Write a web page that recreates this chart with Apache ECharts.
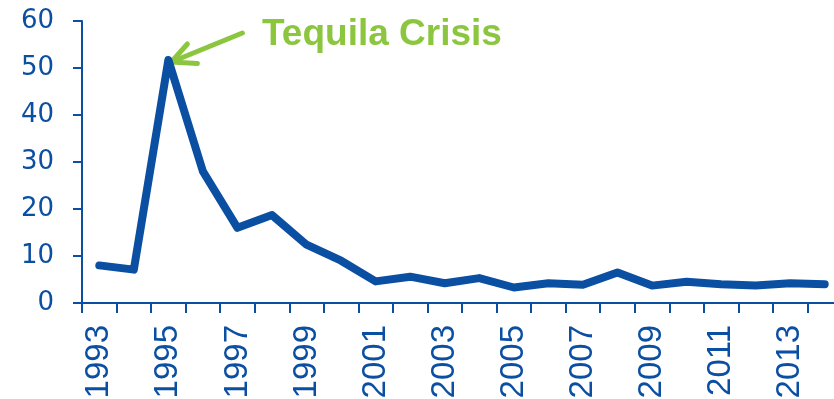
<!DOCTYPE html>
<html>
<head>
<meta charset="utf-8">
<script src="https://cdn.jsdelivr.net/npm/echarts@6/dist/echarts.min.js"></script>
<style>
html,body{margin:0;padding:0;background:#fff;}
#chart{width:834px;height:399px;}
</style>
</head>
<body>
<div id="chart"></div>
<script>
var years = ['1993','1994','1995','1996','1997','1998','1999','2000','2001','2002','2003','2004','2005','2006','2007','2008','2009','2010','2011','2012','2013','2014'];
var values = [8.0, 7.1, 51.7, 28.0, 16.0, 18.7, 12.4, 9.0, 4.6, 5.6, 4.2, 5.3, 3.3, 4.2, 3.9, 6.5, 3.7, 4.5, 4.0, 3.7, 4.2, 4.0];
var yTicks = [0, 10, 20, 30, 40, 50, 60];
var annotationText = 'Tequila Crisis';
var annotationYear = '1995';

var BLUE = '#0b4fa3';
var GREEN = '#8cc63f';

var chart = echarts.init(document.getElementById('chart'), null, {renderer: 'canvas'});
var option = {
  animation: false,
  grid: {left: 82, top: 21, width: 760, height: 282, containLabel: false, outerBoundsMode: 'none'},
  xAxis: {
    type: 'category',
    data: years,
    boundaryGap: true,
    axisLine: {show: true, lineStyle: {color: BLUE, width: 2}},
    axisTick: {show: true, length: 10, lineStyle: {color: BLUE, width: 2}, interval: 0},
    axisLabel: {
      interval: 1, rotate: 90, margin: 22,
      color: BLUE, fontFamily: '"Liberation Sans", Arial, sans-serif', fontSize: 33
    },
    splitLine: {show: false}
  },
  yAxis: {
    type: 'value',
    min: yTicks[0], max: yTicks[yTicks.length - 1], interval: 10,
    axisLine: {show: true, lineStyle: {color: BLUE, width: 2}},
    axisTick: {show: true, length: 9, lineStyle: {color: BLUE, width: 2}},
    axisLabel: {
      margin: 28, color: BLUE,
      fontFamily: '"DejaVu Sans", Verdana, sans-serif', fontSize: 26
    },
    splitLine: {show: false}
  },
  series: [{
    type: 'line',
    data: values,
    symbol: 'none',
    lineStyle: {color: BLUE, width: 8, cap: 'round', join: 'round'}
  }]
};
chart.setOption(option);

var peakIdx = years.indexOf(annotationYear);
var p = chart.convertToPixel({xAxisIndex: 0, yAxisIndex: 0}, [annotationYear, values[peakIdx]]);
var tip = [p[0] + 3, p[1] + 2];
chart.setOption({
  graphic: [
    {
      type: 'polyline',
      shape: {points: [[tip[0] + 71, tip[1] - 29], tip]},
      style: {stroke: GREEN, lineWidth: 5, lineCap: 'round', fill: null}
    },
    {
      type: 'polyline',
      shape: {points: [[tip[0] + 16, tip[1] - 18], tip, [tip[0] + 26, tip[1] + 1.5]]},
      style: {stroke: GREEN, lineWidth: 5, lineCap: 'round', lineJoin: 'round', fill: null}
    },
    {
      type: 'text',
      x: 262, y: 16,
      style: {
        text: annotationText,
        fill: GREEN,
        font: 'bold 37px "Liberation Sans", Arial, sans-serif',
        textVerticalAlign: 'top'
      }
    }
  ]
});
</script>
</body>
</html>
